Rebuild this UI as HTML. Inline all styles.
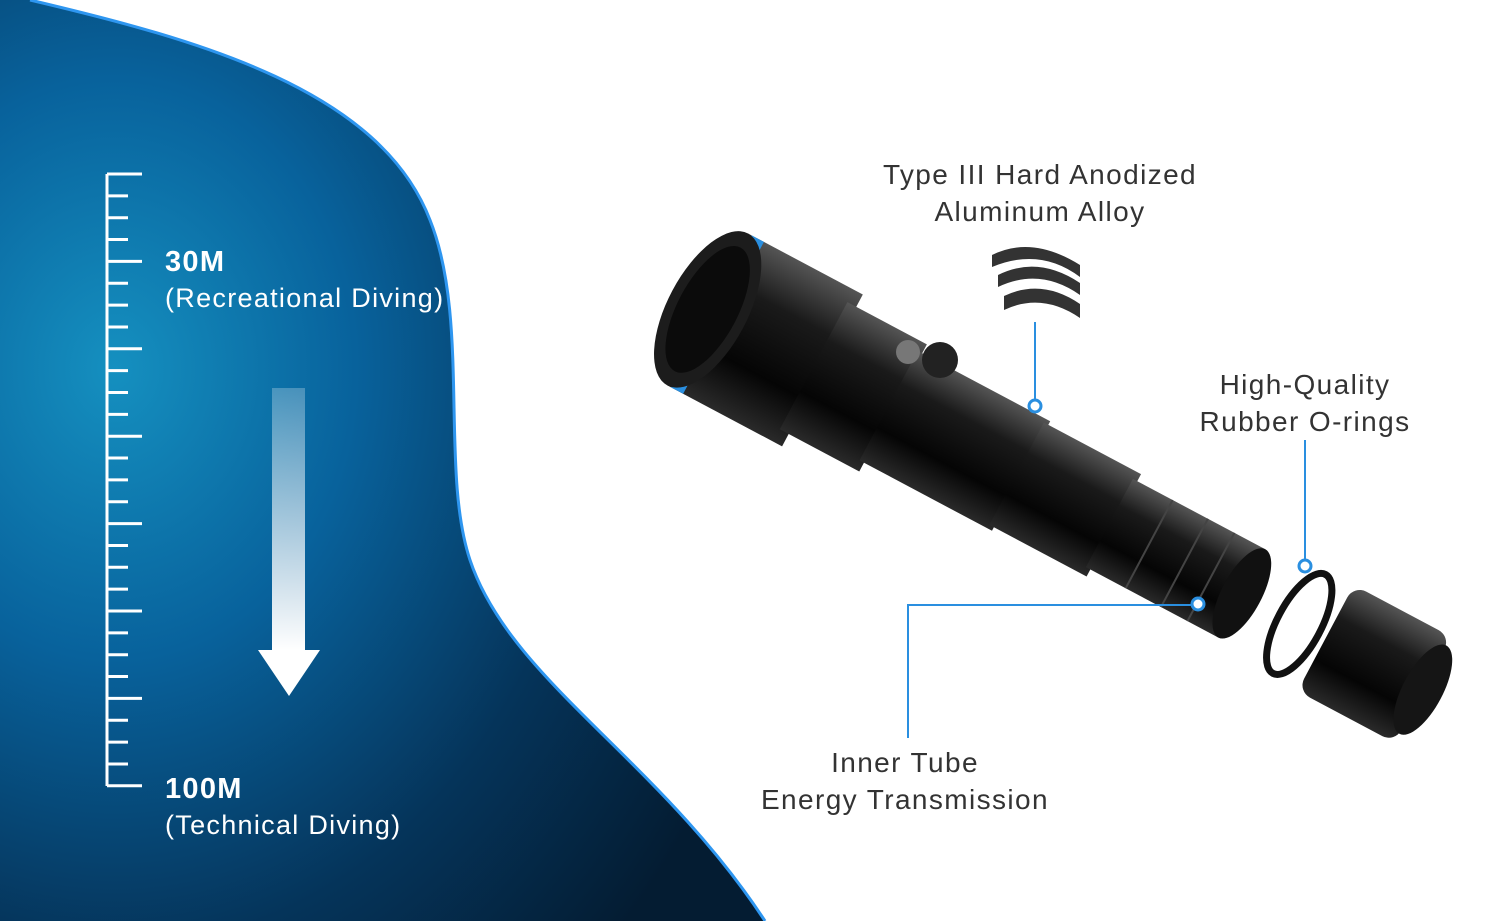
<!DOCTYPE html>
<html><head><meta charset="utf-8"><style>
html,body{margin:0;padding:0;background:#fff;}
body{width:1500px;height:921px;overflow:hidden;position:relative;font-family:"Liberation Sans",sans-serif;}
.t{position:absolute;color:#333;font-size:28px;text-align:center;line-height:37px;letter-spacing:1.4px;}
.w{position:absolute;color:#fff;font-size:27px;line-height:36px;letter-spacing:1.3px;}
</style></head><body>
<svg width="1500" height="921" style="position:absolute;left:0;top:0">
<defs>
<radialGradient id="sea" cx="0.15" cy="0.4" r="0.9">
<stop offset="0" stop-color="#1590c0"/><stop offset="0.35" stop-color="#08629c"/><stop offset="0.7" stop-color="#05345a"/><stop offset="1" stop-color="#041c32"/></radialGradient>
<linearGradient id="arr" x1="0" y1="0" x2="0" y2="1"><stop offset="0" stop-color="#fff" stop-opacity="0.25"/><stop offset="1" stop-color="#fff" stop-opacity="1"/></linearGradient>
<linearGradient id="cyl" x1="0" y1="0" x2="0" y2="1"><stop offset="0" stop-color="#555"/><stop offset="0.3" stop-color="#1a1a1a"/><stop offset="0.7" stop-color="#050505"/><stop offset="1" stop-color="#2a2a2a"/></linearGradient>
</defs>
<path d="M0,0 L30,0 C200,40 380,90 430,220 C470,320 440,470 470,560 C510,680 660,760 765,921 L0,921 Z" fill="url(#sea)"/>
<path d="M30,0 C200,40 380,90 430,220 C470,320 440,470 470,560 C510,680 660,760 765,921" fill="none" stroke="#2e96f0" stroke-width="3"/>
<g stroke="#fff" stroke-width="3">
<line x1="107" y1="174" x2="107" y2="786"/>
<g id="ticks"></g>
</g>
<rect x="272" y="388" width="33" height="262" fill="url(#arr)"/>
<polygon points="258,650 320,650 289,696" fill="#fff"/>
<g transform="translate(690,300) rotate(28)">
<rect x="20" y="-86" width="130" height="172" fill="url(#cyl)"/>
<rect x="24" y="-86" width="14" height="172" fill="#2a8fe0"/>
<ellipse cx="20" cy="0" rx="40" ry="86" fill="#1c1c1c"/>
<ellipse cx="20" cy="0" rx="30" ry="70" fill="#0b0b0b"/>
<rect x="140" y="-72" width="90" height="144" fill="url(#cyl)"/>
<rect x="225" y="-62" width="150" height="124" fill="url(#cyl)"/>
<rect x="370" y="-58" width="110" height="116" fill="url(#cyl)"/>
<rect x="475" y="-50" width="150" height="100" fill="url(#cyl)"/>
<ellipse cx="625" cy="0" rx="20" ry="50" fill="#111"/>
<g stroke="#444" stroke-width="2"><line x1="520" y1="-50" x2="520" y2="50"/><line x1="560" y1="-50" x2="560" y2="50"/><line x1="590" y1="-50" x2="590" y2="50"/></g>
<ellipse cx="690" cy="0" rx="22" ry="56" fill="none" stroke="#111" stroke-width="7"/>
<rect x="720" y="-60" width="110" height="120" rx="14" fill="url(#cyl)"/>
<ellipse cx="830" cy="0" rx="20" ry="50" fill="#151515"/>
</g>
<circle cx="940" cy="360" r="18" fill="#222"/>
<circle cx="908" cy="352" r="12" fill="#777"/>
<g fill="#333"><path d="M992,255 q40,-20 88,10 v12 q-40,-30 -88,-10z"/><path d="M998,275 q40,-20 82,8 v12 q-40,-28 -82,-8z"/><path d="M1004,296 q38,-18 76,8 v14 q-38,-26 -76,-8z"/></g>
<g stroke="#2a8fe0" stroke-width="2" fill="none">
<line x1="1035" y1="322" x2="1035" y2="405"/>
<line x1="1305" y1="440" x2="1305" y2="566"/>
<polyline points="1198,605 908,605 908,738"/>
</g>
<g fill="#fff" stroke="#2a8fe0" stroke-width="3">
<circle cx="1035" cy="406" r="6"/><circle cx="1305" cy="566" r="6"/><circle cx="1198" cy="604" r="6"/>
</g>
</svg>
<div class="w" style="left:165px;top:244px;font-weight:bold;font-size:29px">30M</div>
<div class="w" style="left:165px;top:280px">(Recreational Diving)</div>
<div class="w" style="left:165px;top:771px;font-weight:bold;font-size:29px">100M</div>
<div class="w" style="left:165px;top:807px">(Technical Diving)</div>
<div class="t" style="left:820px;top:156px;width:440px">Type III Hard Anodized<br>Aluminum Alloy</div>
<div class="t" style="left:1135px;top:366px;width:340px">High-Quality<br>Rubber O-rings</div>
<div class="t" style="left:700px;top:744px;width:410px">Inner Tube<br>Energy Transmission</div>
<script>
var g=document.getElementById('ticks'),s='';
for(var i=0;i<=28;i++){var y=174+i*21.85;var L=(i%4==0)?142:128;s+='<line x1="107" y1="'+y+'" x2="'+L+'" y2="'+y+'"/>';}
g.innerHTML=s;
</script>
</body></html>
